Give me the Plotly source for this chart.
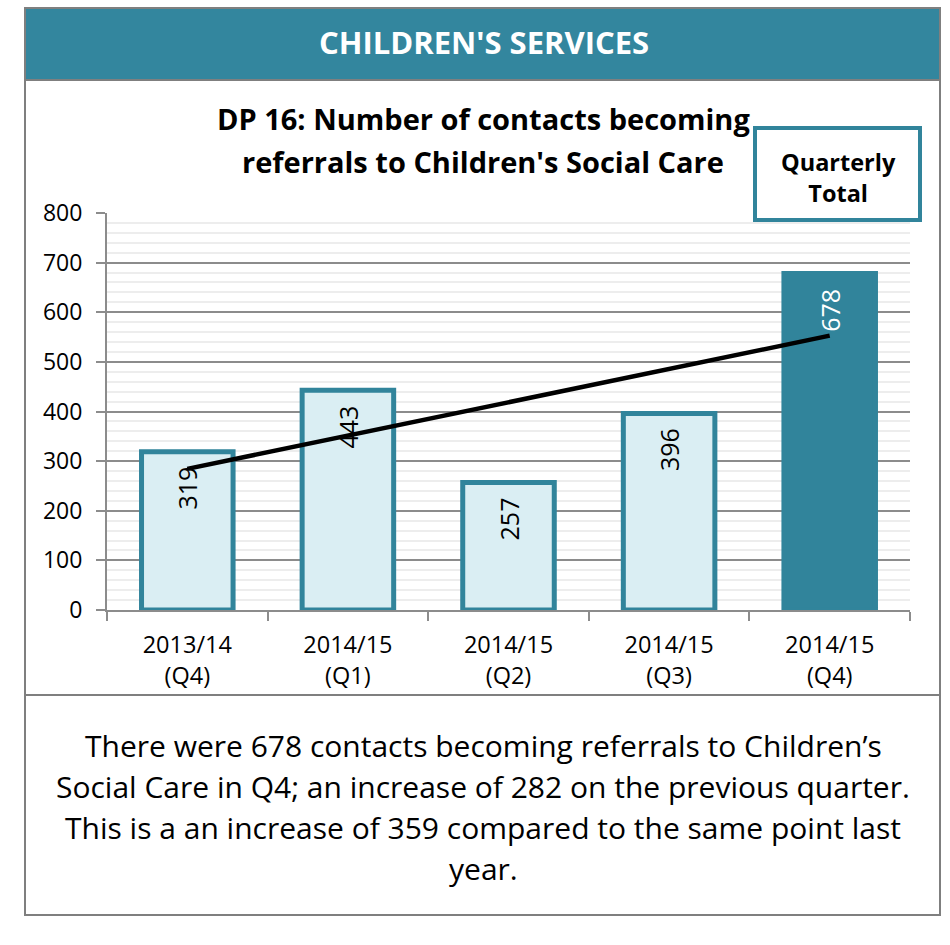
import numpy as np
import plotly.graph_objects as go

# Quarterly counts of contacts becoming referrals
quarters = ["2013/14<br>(Q4)", "2014/15<br>(Q1)", "2014/15<br>(Q2)", "2014/15<br>(Q3)", "2014/15<br>(Q4)"]
referrals = [319, 443, 257, 396, 678]

header_text = "CHILDREN'S SERVICES"
title_lines = ["DP 16: Number of contacts becoming", "referrals to Children's Social Care"]
legend_text = "Quarterly<br>Total"
summary_lines = [
    "There were 678 contacts becoming referrals to Children\u2019s",
    "Social Care in Q4; an increase of 282 on the previous quarter.",
    "This is a an increase of 359 compared to the same point last",
    "year.",
]

TEAL = "#31849B"
LIGHT = "#DAEEF3"
GREY = "#8C8C8C"
FONT = "Open Sans"

W, H = 950, 945


def px(x):
    return x / W


def py(y):
    return 1 - y / H


xpos = list(range(1, len(referrals) + 1))
fill = [LIGHT] * (len(referrals) - 1) + [TEAL]
label_colors = ["black"] * (len(referrals) - 1) + ["white"]

# least-squares linear trend through the quarterly values
slope, intercept = np.polyfit(xpos, referrals, 1)
trend_x = [xpos[0], xpos[-1]]
trend_y = [slope * x + intercept for x in trend_x]

fig = go.Figure()
fig.add_trace(go.Bar(
    x=xpos, y=referrals, width=0.57,
    marker=dict(color=fill, line=dict(color=TEAL, width=5)),
    showlegend=False,
))
fig.add_trace(go.Scatter(
    x=trend_x, y=trend_y, mode="lines",
    line=dict(color="black", width=4.5), showlegend=False, hoverinfo="skip",
))

shapes = [
    dict(type="rect", xref="paper", yref="paper", x0=px(25), x1=px(940), y0=py(915), y1=py(8),
         line=dict(color="#7F7F7F", width=2), fillcolor="rgba(0,0,0,0)", layer="below"),
    dict(type="rect", xref="paper", yref="paper", x0=px(25), x1=px(940), y0=py(80), y1=py(8),
         line=dict(color="#7F7F7F", width=2), fillcolor="#33869E", layer="below"),
    dict(type="line", xref="paper", yref="paper", x0=px(25), x1=px(940), y0=py(695), y1=py(695),
         line=dict(color="#7F7F7F", width=2)),
    dict(type="rect", xref="paper", yref="paper", x0=px(755), x1=px(920), y0=py(220), y1=py(128),
         line=dict(color=TEAL, width=4), fillcolor="white"),
]

annotations = [
    dict(text="<b>" + header_text + "</b>", x=px(484), y=py(42), xref="paper", yref="paper",
         showarrow=False, font=dict(family=FONT, size=31, color="white"), xanchor="center", yanchor="middle"),
    dict(text="<b>" + legend_text + "</b>", x=px(838), y=py(177), xref="paper", yref="paper",
         showarrow=False, font=dict(family=FONT, size=23.5, color="black"), xanchor="center", yanchor="middle"),
]
for i, line in enumerate(title_lines):
    annotations.append(dict(text="<b>" + line + "</b>", x=px(483), y=py(118 + 43 * i), xref="paper", yref="paper",
                            showarrow=False, font=dict(family=FONT, size=29, color="black"),
                            xanchor="center", yanchor="middle"))
for i, line in enumerate(summary_lines):
    annotations.append(dict(text=line, x=px(483), y=py(745 + 41 * i), xref="paper", yref="paper",
                            showarrow=False, font=dict(family=FONT, size=30, color="black"),
                            xanchor="center", yanchor="middle"))
# value labels, rotated, just inside the top of each bar
for x, v, c in zip(xpos, referrals, label_colors):
    annotations.append(dict(text=str(v), x=x, y=v, xref="x", yref="y", textangle=-90,
                            showarrow=False, xanchor="center", yanchor="top", yshift=-13,
                            font=dict(family=FONT, size=25, color=c)))

fig.update_layout(
    width=W, height=H,
    margin=dict(l=0, r=0, t=0, b=0, autoexpand=False),
    paper_bgcolor="white", plot_bgcolor="white",
    font=dict(family=FONT, color="black"),
    shapes=shapes, annotations=annotations,
    xaxis=dict(
        domain=[px(107), px(910)], range=[0.5, 5.5],
        tickmode="array", tickvals=xpos, ticktext=quarters,
        ticks="", showgrid=False, zeroline=False,
        showline=True, linecolor=GREY, linewidth=2,
        tickfont=dict(family=FONT, size=23.5, color="black"),
        ticklabelstandoff=13,
        minor=dict(tick0=0.5, dtick=1, ticks="outside", ticklen=9, tickwidth=2, tickcolor=GREY, showgrid=False),
        fixedrange=True,
    ),
    yaxis=dict(
        domain=[py(610), py(213)], range=[0, 800], dtick=100,
        ticks="outside", ticklen=9, tickwidth=2, tickcolor=GREY,
        showgrid=True, gridcolor=GREY, gridwidth=1.5, zeroline=False,
        showline=True, linecolor=GREY, linewidth=2,
        tickfont=dict(family=FONT, size=23, color="black"),
        ticklabelstandoff=9,
        minor=dict(dtick=20, showgrid=True, gridcolor="#EDEDED", gridwidth=1.5),
        fixedrange=True,
    ),
)

fig.write_html("out.html")
